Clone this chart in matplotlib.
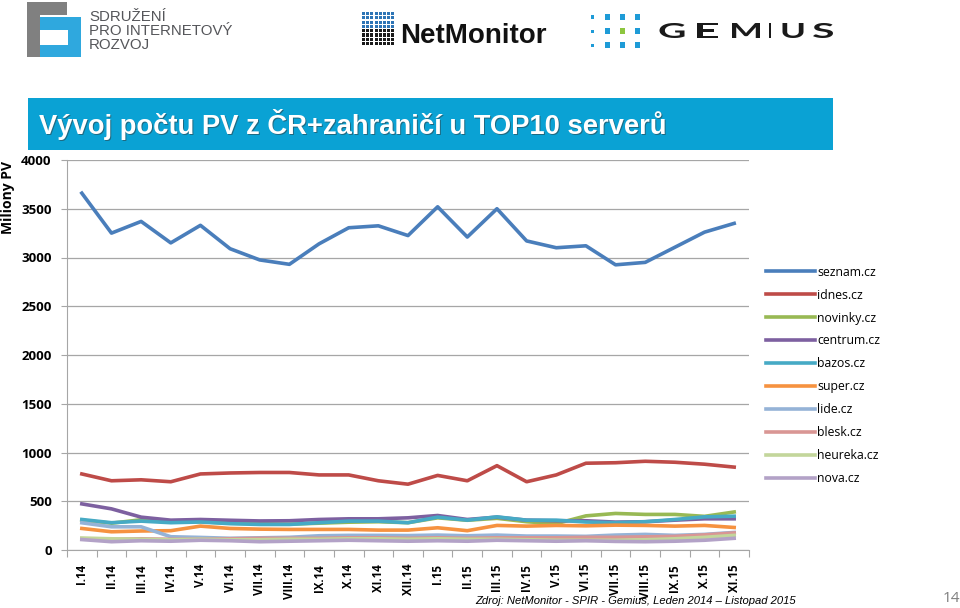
import matplotlib
matplotlib.use('Agg')
import matplotlib.pyplot as plt
from matplotlib.patches import Rectangle, PathPatch
from matplotlib.textpath import TextPath
from matplotlib.font_manager import FontProperties
from matplotlib.transforms import Affine2D, IdentityTransform

# ----------------------------------
# data
months = ['I.14', 'II.14', 'III.14', 'IV.14', 'V.14', 'VI.14', 'VII.14', 'VIII.14',
          'IX.14', 'X.14', 'XI.14', 'XII.14', 'I.15', 'II.15', 'III.15', 'IV.15',
          'V.15', 'VI.15', 'VII.15', 'VIII.15', 'IX.15', 'X.15', 'XI.15']

seznam = [3660, 3250, 3370, 3150, 3330, 3090, 2975, 2930, 3140, 3305, 3325, 3225,
          3520, 3210, 3500, 3170, 3100, 3120, 2925, 2950, 3105, 3260, 3350]
idnes = [780, 710, 720, 700, 780, 790, 795, 795, 770, 770, 710, 675,
         765, 710, 865, 700, 770, 890, 895, 910, 900, 880, 850]
novinky = [305, 275, 310, 285, 290, 275, 270, 265, 275, 285, 290, 280,
           330, 305, 325, 290, 270, 350, 375, 365, 365, 345, 390]
centrum = [473, 422, 337, 306, 313, 305, 298, 300, 313, 320, 320, 330,
           354, 313, 337, 306, 300, 300, 286, 290, 306, 320, 320]
bazos = [313, 280, 296, 280, 287, 270, 262, 262, 280, 296, 296, 280,
         337, 306, 340, 306, 306, 287, 280, 290, 313, 340, 347]
superr = [221, 187, 195, 198, 245, 221, 214, 211, 211, 211, 204, 204,
          228, 198, 252, 245, 252, 248, 255, 252, 245, 252, 231]
lide = [279, 238, 238, 136, 129, 120, 125, 130, 146, 150, 150, 148,
        153, 146, 153, 143, 143, 140, 153, 160, 150, 160, 180]
blesk = [115, 110, 115, 110, 110, 115, 120, 120, 120, 125, 125, 120,
         125, 120, 125, 125, 125, 130, 130, 135, 140, 155, 175]
heureka = [123, 115, 110, 105, 110, 105, 105, 110, 110, 115, 115, 110,
           115, 110, 110, 105, 100, 100, 100, 105, 115, 130, 150]
nova = [107, 85, 95, 90, 100, 95, 85, 90, 95, 100, 95, 90,
        95, 90, 100, 95, 90, 95, 88, 85, 90, 100, 120]

names = ['seznam.cz', 'idnes.cz', 'novinky.cz', 'centrum.cz', 'bazos.cz',
         'super.cz', 'lide.cz', 'blesk.cz', 'heureka.cz', 'nova.cz']
series = [seznam, idnes, novinky, centrum, bazos, superr, lide, blesk, heureka, nova]
colors = ['#4A7EBB', '#BE4B48', '#98B954', '#7D60A0', '#46AAC5',
          '#F69240', '#95B3D7', '#D99694', '#C3D69B', '#B3A2C7']

# ----------------------------------
# figure
fig = plt.figure(figsize=(9.6, 6.08), dpi=100)
W, H = 960, 608

def fx(px):
    return px / W

def fy(py):
    return 1 - py / H

def box(x0, y0, x1, y1, color):
    # rectangle in pixel coords (top-left origin)
    fig.patches.append(Rectangle((fx(x0), fy(y1)), fx(x1) - fx(x0), fy(y0) - fy(y1),
                                 transform=fig.transFigure, color=color, lw=0))

ax = fig.add_axes([fx(67), fy(550), fx(749) - fx(67), fy(160) - fy(550)])
x = list(range(len(months)))
for s, n, c in zip(series, names, colors):
    ax.plot(x, s, color=c, lw=2.6, label=n, solid_joinstyle='round')

ax.set_xlim(-0.5, len(months) - 0.5)
ax.set_ylim(0, 4000)
ax.set_yticks(range(0, 4001, 500))
ax.yaxis.grid(True, color='#A6A6A6', lw=0.9)
ax.set_axisbelow(True)
ax.tick_params(axis='y', length=4, color='#A6A6A6', labelsize=9.5, pad=7)
for lab in ax.get_yticklabels():
    lab.set_fontweight('bold')
    lab.set_family(['Open Sans', 'DejaVu Sans'])
for sp in ['top', 'right']:
    ax.spines[sp].set_visible(False)
ax.spines['left'].set_color('#A6A6A6')
ax.spines['bottom'].set_color('#A6A6A6')

ax.set_xticks([i + 0.5 for i in range(-1, len(months))], minor=False)
ax.set_xticklabels([])
ax.tick_params(axis='x', length=5, color='#A6A6A6', direction='out')
ax.set_xticks(x, minor=True)
ax.set_xticklabels(months, minor=True, rotation=90, fontsize=8.3,
                   fontweight='bold', family=['Open Sans', 'DejaVu Sans'])
ax.tick_params(axis='x', which='minor', length=0, pad=10)

fig.text(fx(8), fy(198), 'Miliony PV', rotation=90, ha='center', va='center',
         fontsize=10, fontweight='bold', family=['Open Sans', 'DejaVu Sans'])

leg = ax.legend(loc='upper left', bbox_to_anchor=(1.009, 0.757), frameon=False,
                handlelength=4.0, labelspacing=0.81, handletextpad=0.2,
                prop={'family': ['Open Sans', 'DejaVu Sans'], 'size': 8.8})

# ----------------------------------
# title banner
box(28, 98, 833, 150, '#0AA2D4')
title = 'Vývoj počtu PV z ČR+zahraničí u TOP10 serverů'
fig.text(fx(39) + 0.0015, fy(124) - 0.003, title,
         color='#333333', alpha=0.5, fontsize=19.7, fontweight='bold', va='center',
         family=['Liberation Sans Narrow', 'Liberation Sans'])
fig.text(fx(39), fy(124), title,
         color='white', fontsize=19.7, fontweight='bold', va='center',
         family=['Liberation Sans Narrow', 'Liberation Sans'])

# ----------------------------------
# logos (simplified)
box(27, 2, 67, 15, '#808080')
box(27, 2, 40, 57, '#808080')
box(40, 17, 81, 30, '#2FA8DE')
box(68, 17, 81, 57, '#2FA8DE')
box(40, 45, 81, 57, '#2FA8DE')
fig.text(fx(89), fy(31), 'SDRUŽENÍ\nPRO INTERNETOVÝ\nROZVOJ', color='#55565A',
         fontsize=10.8, va='center', linespacing=1.0,
         family=['Liberation Sans Narrow', 'Liberation Sans'])

for r in range(8):
    for c in range(8):
        box(362 + c * 4.2, 12 + r * 4.3, 362 + c * 4.2 + 3, 12 + r * 4.3 + 3,
            '#1A1A1A' if r > 3 else '#2E75B6')
fig.text(fx(400), fy(36), 'NetMonitor', color='#111111', fontsize=20, fontweight='bold',
         va='center', family=['Liberation Sans Narrow', 'Liberation Sans'])

for r in range(3):
    for c in range(4):
        col = '#8DC63F' if (r == 1 and c == 2) else '#1E9BD7'
        sz = 3 if c == 0 else 5
        cx = 592 + c * 15
        cy = 17 + r * 14
        box(cx - sz / 2, cy - sz / 2, cx + sz / 2, cy + sz / 2, col)

# wide GEMIUS letters, stretched horizontally
gem_fp = FontProperties(family=['Lato', 'DejaVu Sans'], weight='bold')
gem_letters = 'GEMIUS'
gem_centers = [672, 707, 746, 770, 793, 823]
gem_widths = [25, 21, 28, 0, 21, 20]
for ch, cxp, wd in zip(gem_letters, gem_centers, gem_widths):
    tp = TextPath((0, 0), ch, size=20, prop=gem_fp)
    ext = tp.get_extents()
    sy = 15.0 / ext.height
    sx = wd / ext.width if wd else sy
    tr = (Affine2D().translate(-(ext.x0 + ext.x1) / 2, -ext.y0)
          .scale(sx, sy).translate(cxp, H - 38))
    fig.patches.append(PathPatch(tr.transform_path(tp), transform=IdentityTransform(),
                                 color='#1A1A1A', lw=0))

# ----------------------------------
# footer
fig.text(fx(475), fy(601), 'Zdroj: NetMonitor - SPIR - Gemius, Leden 2014 – Listopad 2015',
         fontsize=8.1, style='italic', va='center', family=['Liberation Sans', 'DejaVu Sans'])
fig.text(fx(943), fy(598), '14', color='#7F7F7F', fontsize=11, va='center',
         family=['Open Sans', 'DejaVu Sans'])

fig.savefig('out.png', dpi=100)
